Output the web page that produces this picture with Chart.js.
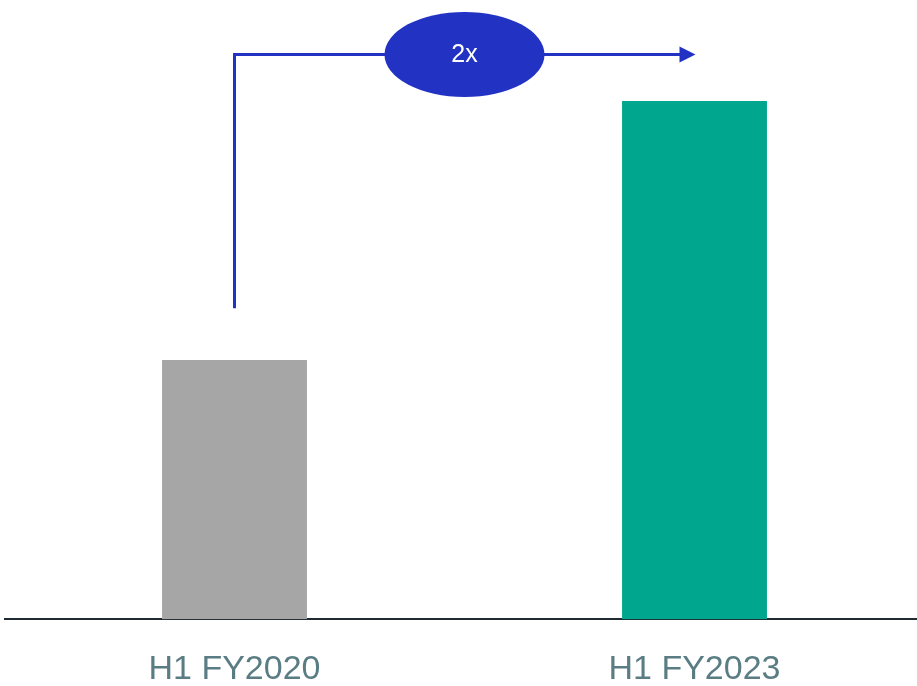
<!DOCTYPE html>
<html>
<head>
<meta charset="utf-8">
<script src="https://cdn.jsdelivr.net/npm/chart.js@4/dist/chart.umd.min.js"></script>
<style>
  html, body { margin: 0; padding: 0; background: #fff; overflow: hidden; }
  #wrap { width: 930px; height: 720px; }
</style>
</head>
<body>
<div id="wrap"><canvas id="chart" width="930" height="720"></canvas></div>
<script>
const labels = ['H1 FY2020', 'H1 FY2023'];
const values = [1.0, 2.0];
const barColors = ['#a6a6a6', '#00a78e'];
const growthLabel = '2x';
// arrow: starts above first bar, runs across at this level to the second bar
const arrowFrom = 1.2;
const arrowLevel = 2.18;

const growthArrow = {
  id: 'growthArrow',
  afterDatasetsDraw(chart) {
    const { ctx, scales: { x, y } } = chart;
    const x1 = x.getPixelForValue(0);
    const x2 = x.getPixelForValue(1);
    const yStart = y.getPixelForValue(arrowFrom);
    const yLevel = y.getPixelForValue(arrowLevel);
    const blue = '#2233c4';

    ctx.save();
    ctx.strokeStyle = blue;
    ctx.fillStyle = blue;
    ctx.lineWidth = 3;
    ctx.beginPath();
    ctx.moveTo(x1, yStart);
    ctx.lineTo(x1, yLevel);
    ctx.lineTo(x2 - 14, yLevel);
    ctx.stroke();

    ctx.beginPath();
    ctx.moveTo(x2 + 1, yLevel);
    ctx.lineTo(x2 - 15, yLevel - 8);
    ctx.lineTo(x2 - 15, yLevel + 8);
    ctx.closePath();
    ctx.fill();

    const cx = (x1 + x2) / 2;
    ctx.beginPath();
    ctx.ellipse(cx, yLevel, 80, 42.5, 0, 0, Math.PI * 2);
    ctx.fill();

    ctx.fillStyle = '#ffffff';
    ctx.font = '25px "Liberation Sans", Arial, sans-serif';
    ctx.textAlign = 'center';
    ctx.textBaseline = 'middle';
    ctx.fillText(growthLabel, cx, yLevel + 1);
    ctx.restore();
  }
};

new Chart(document.getElementById('chart').getContext('2d'), {
  type: 'bar',
  data: {
    labels: labels,
    datasets: [
      {
        data: values,
        backgroundColor: barColors,
        borderWidth: 0,
        categoryPercentage: 1,
        barPercentage: 0.315,
      },
    ],
  },
  options: {
    responsive: false,
    animation: false,
    layout: { padding: { left: 4.5, right: 5.5, top: 0, bottom: 0 } },
    plugins: {
      legend: { display: false },
      tooltip: { enabled: false },
    },
    scales: {
      x: {
        grid: { display: false, drawTicks: false },
        border: { display: true, color: '#1f2b30', width: 2 },
        ticks: {
          color: '#5a7d84',
          padding: 30,
          font: { size: 34, family: '"Liberation Sans", Arial, sans-serif' },
        },
      },
      y: {
        display: false,
        beginAtZero: true,
        min: 0,
        max: 2.39,
      },
    },
  },
  plugins: [growthArrow],
});
</script>
</body>
</html>
